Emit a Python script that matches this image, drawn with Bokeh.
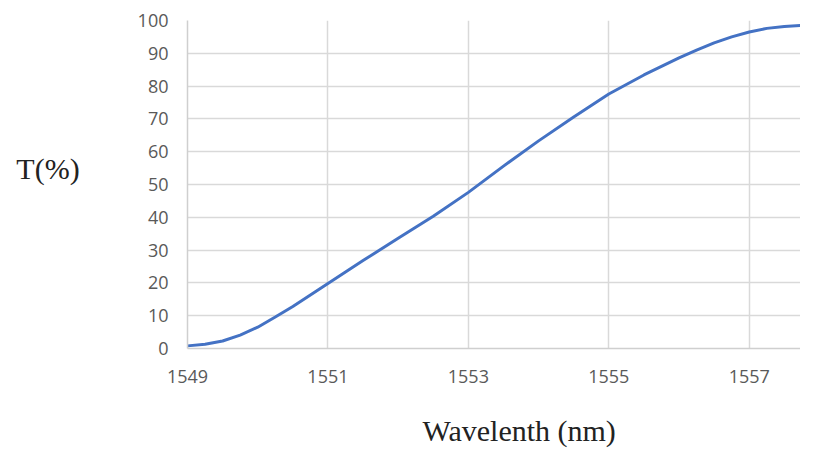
from bokeh.plotting import figure
from bokeh.models import Range1d, FixedTicker, Title, LinearAxis
from bokeh.embed import file_html
from bokeh.resources import INLINE

wavelength = [1549.0, 1549.25, 1549.5, 1549.75, 1550.0, 1550.25, 1550.5, 1551.0, 1551.5,
              1552.0, 1552.5, 1553.0, 1553.5, 1554.0, 1554.5, 1555.0, 1555.5, 1556.0,
              1556.25, 1556.5, 1556.75, 1557.0, 1557.25, 1557.5, 1557.75, 1558.0]
transmission = [0.8, 1.3, 2.3, 4.1, 6.5, 9.6, 12.8, 19.8, 26.8,
                33.6, 40.3, 47.6, 55.6, 63.3, 70.6, 77.6, 83.4, 88.6,
                91.0, 93.2, 95.0, 96.5, 97.6, 98.2, 98.5, 98.6]
x_ticks = [1549, 1551, 1553, 1555, 1557]
y_ticks = [0, 10, 20, 30, 40, 50, 60, 70, 80, 90, 100]
x_title = "Wavelenth (nm)"
y_title = "T(%)"

p = figure(width=800, height=451, output_backend="svg", toolbar_location=None,
           x_range=Range1d(1549, 1557.73), y_range=Range1d(0, 100),
           min_border_left=187, min_border_right=0, min_border_top=20,
           min_border_bottom=103)
p.outline_line_color = None
p.background_fill_color = "white"
p.border_fill_color = "white"

grid_color = "#d9d9d9"
p.xaxis.ticker = FixedTicker(ticks=x_ticks)
p.yaxis.ticker = FixedTicker(ticks=y_ticks)
p.xgrid.ticker = FixedTicker(ticks=x_ticks)
p.ygrid.ticker = FixedTicker(ticks=y_ticks)
p.xgrid.grid_line_color = grid_color
p.ygrid.grid_line_color = grid_color
p.xgrid.grid_line_width = 1.5
p.ygrid.grid_line_width = 1.5

for ax in (p.xaxis, p.yaxis):
    ax.axis_line_color = "#cfcfcf"
    ax.axis_line_width = 1.5
    ax.major_tick_line_color = None
    ax.minor_tick_line_color = None
    ax.major_label_text_color = "#595959"
    ax.major_label_text_font = "Open Sans"
    ax.major_label_text_font_size = "18px"
p.yaxis.major_label_standoff = 13
p.xaxis.major_label_standoff = 15

p.yaxis.axis_label = y_title + "\n"
p.yaxis.axis_label_orientation = "horizontal"
p.yaxis.axis_label_standoff = 55
p.yaxis.axis_label_text_font = "Liberation Serif"
p.yaxis.axis_label_text_font_style = "normal"
p.yaxis.axis_label_text_font_size = "30px"
p.yaxis.axis_label_text_line_height = 1.0
p.yaxis.axis_label_text_color = "#222222"

# invisible spacer axis between the tick labels and the x title
spacer = LinearAxis(ticker=FixedTicker(ticks=[1549]), major_tick_out=26, major_tick_in=0,
                    axis_line_color=None, major_tick_line_color="white",
                    minor_tick_line_color=None, major_label_overrides={1549: ""},
                    major_label_standoff=0)
p.add_layout(spacer, "below")

p.add_layout(Title(text=x_title, align="left", offset=235, standoff=0,
                   vertical_align="bottom",
                   text_font="Liberation Serif", text_font_style="normal",
                   text_font_size="30px", text_color="#222222"), "below")

p.line(wavelength, transmission, line_color="#4472C4", line_width=3)

open("out.html", "w").write(file_html(p, INLINE))
